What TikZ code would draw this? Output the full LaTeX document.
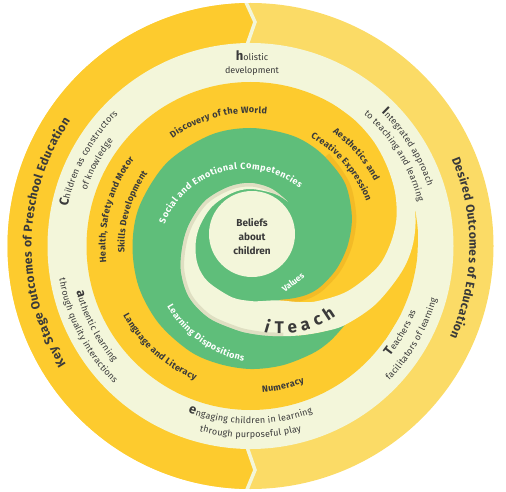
\documentclass[tikz,border=0pt]{standalone}
\usepackage{fontspec}
\setmainfont{Fira Sans}
\usetikzlibrary{decorations.text}
\definecolor{dkyel}{HTML}{FDCB2E}
\definecolor{ltyel}{HTML}{FBDB66}
\definecolor{cream}{HTML}{F3F6DA}
\definecolor{grn}{HTML}{5FBE7A}
\definecolor{txt}{HTML}{3A3A3A}
\definecolor{bshade}{HTML}{CFCDB0}
\definecolor{yshade}{HTML}{E8A91E}

\newcommand\cwtext[6]{%
  \pgfmathsetmacro\tA{#4-85}\pgfmathsetmacro\tB{#4+85}%
  \path[decorate,decoration={text along path,text align=center,text color=#5,text={#6}}]
    plot[domain=\tA:\tB,samples=100,variable=\t]({#1+#3*sin(\t)},{#2-#3*cos(\t)});}
\newcommand\ccwtext[6]{%
  \pgfmathsetmacro\tA{#4+85}\pgfmathsetmacro\tB{#4-85}%
  \path[decorate,decoration={text along path,text align=center,text color=#5,text={#6}}]
    plot[domain=\tA:\tB,samples=100,variable=\t]({#1+#3*sin(\t)},{#2-#3*cos(\t)});}

\tikzset{
  bpath/.style={insert path={
    plot[smooth,tension=0.55] coordinates {(-60:170) (-40:170) (-20:169) (-10:167.5) (0:162) (10:153) (25:138) (40:123) (50:112) (60:103) (70:96) (80:91) (90:87.5) (100:85) (120:83) (140:80) (160:74) (180:68) (200:65) (225:64) (250:63) (270:63) (290:61) (310:58)}
    -- plot[smooth,tension=0.55] coordinates {(310:58) (295:57.5) (270:57) (250:56) (225:55) (200:54.5) (180:55) (160:56) (140:55.5) (110:54.5) (90:55) (80:56) (70:58) (60:63) (50:73) (40:86) (25:107) (10:128) (0:139) (-10:148) (-20:154) (-30:158) (-40:161.5) (-50:163.5) (-60:164.5)}
    -- cycle}},
  letter/.style={text=txt,font=\fontsize{17}{17}\selectfont\bfseries,anchor=base,inner sep=0pt},
  ctext/.style={text=txt,align=center},
}

\begin{document}
\begin{tikzpicture}[x=1pt,y=-1pt]
\useasboundingbox (0,0) rectangle (506,492);
% outer ring with two halves and chevrons
\begin{scope}
  \clip (250.5,246) circle[radius=243];
  \fill[ltyel] (0,0) rectangle (506,492);
  \fill[dkyel] (0,-5) -- (242.7,-5) -- (255,22) -- (247,45) -- (247,447) -- (255,470) -- (244,497) -- (0,497) -- cycle;
  \draw[cream,line width=3.5] (242.7,-5) -- (255,22) -- (247,45);
  \draw[cream,line width=3.5] (247,447) -- (255,470) -- (244,497);
\end{scope}
\fill[cream] (250.5,246) circle[radius=203];
\fill[dkyel] (250.5,246) circle[radius=164];

\begin{scope}[shift={(250.5,246)}]
  % yellow spike
  \fill[dkyel] plot[smooth] coordinates {(-12:168.5) (-5:168) (5:167) (15:166) (25:165) (35:164.2)}
     -- (35:145) -- (15:150) -- (-5:158) -- cycle;
  % shadow on the yellow next to the inner green arm
  \draw[yshade,line width=9,opacity=0.45] plot[smooth] coordinates {(310:117) (320:114.5) (330:112) (345:105) (360:97) (375:89) (390:81) (400:75) (410:68) (422:61)};
  % green spiral
  \fill[grn] plot[smooth,tension=0.55] coordinates {(40:123) (50:124) (60:124) (75:123.5) (90:123) (105:122) (120:121.5) (140:120) (160:119) (180:118) (200:118) (225:118) (250:118) (270:118) (290:118) (305:117) (320:114.5) (330:112) (345:105) (360:97) (375:89) (390:81) (400:75) (410:68) (422:61)}
     -- plot[smooth,tension=0.55] coordinates {(62:101.5) (50:112) (40:123)} -- cycle;
  % cream spiral band
  \fill[cream,bpath];
  \begin{scope}
    \path[clip,bpath];
    \draw[bshade,line width=7,opacity=0.55] plot[smooth,tension=0.55] coordinates {(70:96) (80:91) (90:87.5) (100:85) (120:83) (140:80) (160:74) (180:68) (200:65) (225:64) (250:63) (270:63) (290:61) (310:58)};
  \end{scope}
\end{scope}
% centre
\fill[cream] (252,234) circle[radius=43];
\node[name=beliefs,ctext,font=\bfseries\fontsize{10}{14}\selectfont] at (252,237) {Beliefs\\about\\children};

% outer ring texts
\cwtext{250.5}{246}{219}{271}{txt}{|\fontsize{12}{12}\selectfont\bfseries\kern0.4pt|Key Stage Outcomes of Preschool Education}
\cwtext{250.5}{246}{219}{90.5}{txt}{|\fontsize{12}{12}\selectfont\bfseries\kern0.4pt|Desired Outcomes of Education}

% cream band texts
\node[name=holistic,ctext,font=\fontsize{9}{13}\selectfont] at (252,63) {{\fontsize{13}{13}\selectfont\bfseries h}olistic\\development};
\cwtext{250.5}{246}{187}{298.5}{txt}{|\fontsize{13}{13}\selectfont\bfseries|C|\fontsize{9}{9}\selectfont\kern0.2pt|hildren as constructors}
\cwtext{250.5}{246}{173}{298}{txt}{|\fontsize{9}{9}\selectfont\kern0.2pt|of knowledge}
\ccwtext{250.5}{246}{180}{242.5}{txt}{|\fontsize{13}{13}\selectfont\bfseries|a|\fontsize{9}{9}\selectfont\kern0.2pt|uthentic learning}
\ccwtext{250.5}{246}{194}{242.5}{txt}{|\fontsize{9}{9}\selectfont\kern0.2pt|through quality interactions}
\ccwtext{250.5}{246}{178}{180}{txt}{|\fontsize{13}{13}\selectfont\bfseries|e|\fontsize{9}{9}\selectfont\kern0.2pt|ngaging children in learning}
\ccwtext{250.5}{246}{192}{180}{txt}{|\fontsize{9}{9}\selectfont\kern0.2pt|through purposeful play}
\ccwtext{250.5}{246}{178}{120}{txt}{|\fontsize{13}{13}\selectfont\bfseries|T|\fontsize{9}{9}\selectfont\kern0.2pt|eachers as}
\ccwtext{250.5}{246}{193.5}{120}{txt}{|\fontsize{9}{9}\selectfont\kern0.2pt|facilitators of learning}
\cwtext{250.5}{246}{187}{58}{txt}{|\fontsize{13}{13}\selectfont\bfseries|I|\fontsize{9}{9}\selectfont\kern0.2pt|ntegrated approach}
\cwtext{250.5}{246}{173.5}{58}{txt}{|\fontsize{9}{9}\selectfont\kern0.2pt|to teaching and learning}

% yellow band texts
\cwtext{250.5}{246}{133}{345.5}{txt}{|\fontsize{9}{9}\selectfont\bfseries\kern0.3pt|Discovery of the World}
\cwtext{250.5}{246}{140}{49}{txt}{|\fontsize{9}{9}\selectfont\bfseries\kern0.3pt|Aesthetics and}
\cwtext{250.5}{246}{124}{49}{txt}{|\fontsize{9}{9}\selectfont\bfseries\kern0.3pt|Creative Expression}
\cwtext{250.5}{246}{145}{285}{txt}{|\fontsize{9}{9}\selectfont\bfseries\kern0.3pt|Health, Safety and Motor}
\cwtext{250.5}{246}{126}{286}{txt}{|\fontsize{9}{9}\selectfont\bfseries\kern0.3pt|Skills Development}
\ccwtext{250.5}{246}{145}{222}{txt}{|\fontsize{9}{9}\selectfont\bfseries\kern0.3pt|Language and Literacy}
\ccwtext{250.5}{246}{147}{167}{txt}{|\fontsize{9}{9}\selectfont\bfseries\kern0.3pt|Numeracy}

% green texts
\cwtext{245}{255}{86}{345}{white}{|\fontsize{9}{9}\selectfont\bfseries\kern0.5pt|Social and Emotional Competencies}
\ccwtext{265}{250}{113}{215.6}{white}{|\fontsize{9}{9}\selectfont\bfseries\kern0.4pt|Learning Dispositions}
\node[name=values,rotate=37,text=white,font=\bfseries\fontsize{8.5}{9}\selectfont] at (293,282) {Values};

% iTeach
\node[name=l1,letter,rotate=-8.3,font=\fontsize{17}{17}\selectfont\bfseries\itshape] at (266.4,333.0) {i};
\node[name=l2,letter,rotate=-0.5] at (279.2,334.0) {T};
\node[name=l3,letter,rotate=8] at (293.1,333.1) {e};
\node[name=l4,letter,rotate=16.5] at (306.7,330.1) {a};
\node[name=l5,letter,rotate=25] at (319.7,325.2) {c};
\node[name=l6,letter,rotate=33.5] at (331.9,318.4) {h};
\end{tikzpicture}
\end{document}
